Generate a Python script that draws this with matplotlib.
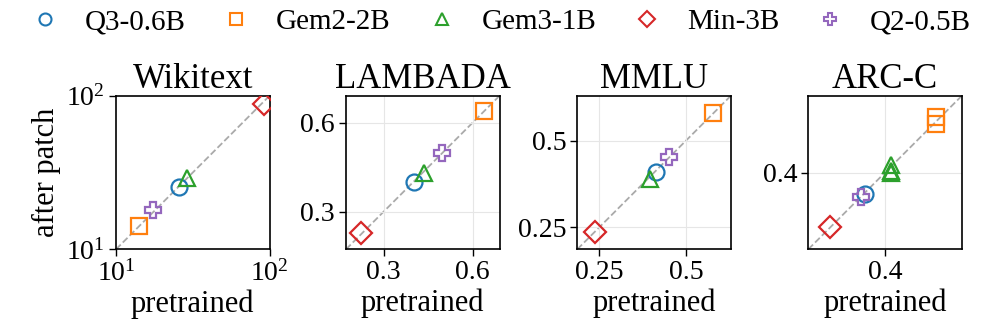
import matplotlib
matplotlib.use("Agg")
import matplotlib.pyplot as plt
from matplotlib.lines import Line2D
import numpy as np

plt.rcParams.update({"font.family": ["Liberation Serif", "DejaVu Serif"],
                     "mathtext.fontset": "stix"})

models = ["Q3-0.6B", "Gem2-2B", "Gem3-1B", "Min-3B", "Q2-0.5B"]
markers = ["o", "s", "^", "D", "P"]
colors = ["#1f77b4", "#ff7f0e", "#2ca02c", "#d62728", "#9467bd"]

benchmarks = ["Wikitext", "LAMBADA", "MMLU", "ARC-C"]

# point -> model index, pretrained value, after-patch value
wiki_model = [0, 1, 2, 3, 4]
wiki_pre = [25.8, 14.2, 29.2, 91.5, 17.5]
wiki_post = [25.5, 14.1, 29.1, 88.0, 17.9]

lamb_model = [0, 1, 2, 3, 4]
lamb_pre = [0.402, 0.639, 0.435, 0.223, 0.497]
lamb_post = [0.400, 0.640, 0.429, 0.228, 0.498]

mmlu_model = [0, 1, 2, 3, 4]
mmlu_pre = [0.413, 0.579, 0.396, 0.238, 0.452]
mmlu_post = [0.411, 0.580, 0.389, 0.236, 0.453]

arc_model = [0, 1, 1, 2, 2, 2, 3, 4]
arc_pre = [0.353, 0.520, 0.520, 0.413, 0.413, 0.413, 0.269, 0.343]
arc_post = [0.349, 0.531, 0.515, 0.417, 0.404, 0.398, 0.271, 0.342]

ticks = [None, [0.3, 0.6], [0.25, 0.5], [0.4]]
tick_labels = [None, ["0.3", "0.6"], ["0.25", "0.5"], ["0.4"]]

data = [(wiki_model, wiki_pre, wiki_post), (lamb_model, lamb_pre, lamb_post),
        (mmlu_model, mmlu_pre, mmlu_post), (arc_model, arc_pre, arc_post)]

W, H = 997, 328
fig = plt.figure(figsize=(W / 100, H / 100), dpi=100)
lefts = [116, 346, 577.3, 808.3]
size = 153.5

for k, name in enumerate(benchmarks):
    ax = fig.add_axes([lefts[k] / W, 1 - 249.3 / H, size / W, size / H])
    mi, pre, post = data[k]
    if k == 0:
        ax.set_xscale("log")
        ax.set_yscale("log")
        lo, hi = 10, 100
    else:
        allv = np.array(pre + post)
        lo, hi = allv.min() - 0.05, allv.max() + 0.05
    ax.plot([lo, hi], [lo, hi], ls="--", color="#aaaaaa", lw=1.3, zorder=1)
    for m, x, y in zip(mi, pre, post):
        ax.plot(x, y, marker=markers[m], ms=11.5, mfc="none", mec=colors[m],
                mew=1.6, ls="none", zorder=3)
    ax.set_xlim(lo, hi)
    ax.set_ylim(lo, hi)
    if k > 0:
        ax.set_xticks(ticks[k])
        ax.set_xticklabels(tick_labels[k])
        ax.set_yticks(ticks[k])
        ax.set_yticklabels(tick_labels[k])
        ax.grid(True, color="#e6e6e6", lw=0.8, zorder=0)
    else:
        ax.minorticks_off()
    ax.tick_params(labelsize=20, length=5, width=1.0, pad=3)
    for s in ax.spines.values():
        s.set_linewidth(1.2)
    ax.set_title(name, fontsize=25, pad=5)
    ax.set_xlabel("pretrained", fontsize=22, labelpad=2)
    if k == 0:
        ax.set_ylabel("after patch", fontsize=22, labelpad=4)

handles = [Line2D([], [], marker=markers[i], color=colors[i], mfc="none", mew=1.5,
                  ms=11.5, ls="none") for i in range(len(models))]
fig.legend(handles, models, loc="upper left", bbox_to_anchor=(0.004, 1.035), ncol=5,
           frameon=False, fontsize=21, markerscale=0.75, handlelength=1.4,
           handletextpad=0.66, columnspacing=1.05, borderaxespad=0.3)

fig.savefig("out.png", dpi=100)
